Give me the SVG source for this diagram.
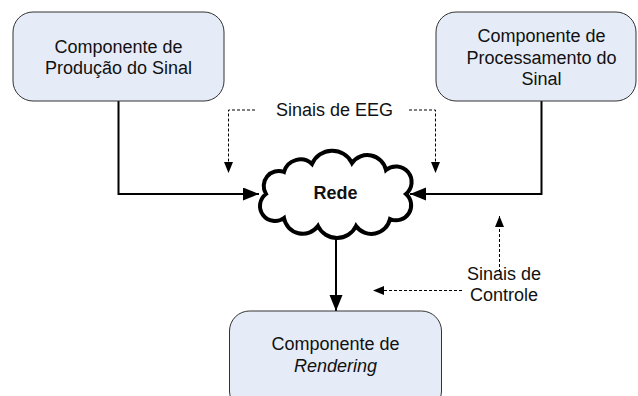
<svg xmlns="http://www.w3.org/2000/svg" width="638" height="396" viewBox="0 0 638 396">
<style>
.box{fill:#e6ecf7;stroke:#333;stroke-width:1}
.t{font-family:"Liberation Sans",Arial,sans-serif;font-size:18px;fill:#111;text-anchor:middle}
.solid{fill:none;stroke:#000;stroke-width:2}
.dash{fill:none;stroke:#000;stroke-width:1;stroke-dasharray:3 2}
</style>
<defs>
<marker id="a" markerUnits="userSpaceOnUse" markerWidth="18" markerHeight="14" refX="16" refY="6.5" orient="auto"><path d="M0,0 L16,6.5 L0,13 z" fill="#000"/></marker>
<marker id="d" markerUnits="userSpaceOnUse" markerWidth="12" markerHeight="10" refX="11" refY="4.5" orient="auto"><path d="M0,0 L11,4.5 L0,9 z" fill="#000"/></marker>
</defs>
<g id="connectors">
<path class="solid" d="M118.5,101 V194 H259" marker-end="url(#a)"/>
<path class="solid" d="M541.5,101 V194 H410" marker-end="url(#a)"/>
<path class="solid" d="M336,236 V311" marker-end="url(#a)"/>
<path class="dash" d="M255,110 H228.5 V173" marker-end="url(#d)"/>
<path class="dash" d="M409,110 H435.5 V173" marker-end="url(#d)"/>
<path class="dash" d="M462,290.5 H373" marker-end="url(#d)"/>
<path class="dash" d="M499.5,272 V216" marker-end="url(#d)"/>
</g>
<g id="producao">
<rect class="box" x="13" y="12" width="211" height="89" rx="20"/>
<text class="t" x="118.5" y="53">Componente de</text>
<text class="t" x="118.5" y="74">Produção do Sinal</text>
</g>
<g id="processamento">
<rect class="box" x="436" y="12" width="200" height="89" rx="20"/>
<text class="t" x="541.5" y="42">Componente de</text>
<text class="t" x="541.5" y="63.5">Processamento do</text>
<text class="t" x="541.5" y="85">Sinal</text>
</g>
<g id="rendering">
<rect class="box" x="229.5" y="311" width="212" height="100" rx="20"/>
<text class="t" x="335.5" y="350">Componente de</text>
<text class="t" x="335.5" y="372" font-style="italic">Rendering</text>
</g>
<g id="rede">
<path d="M266,194 A15,15 0 0 1 284,172 A17,17 0 0 1 312,164 A22,22 0 0 1 352,163 A19,19 0 0 1 386,170 A15,15 0 0 1 406,194 A15,15 0 0 1 390,219 A19,19 0 0 1 356,226 A21,21 0 0 1 318,226 A19,19 0 0 1 284,218 A14,14 0 0 1 266,194 Z" fill="#fff" stroke="#000" stroke-width="4"/>
<text class="t" x="335.5" y="199" font-weight="bold">Rede</text>
</g>
<g id="labels">
<text class="t" x="334.5" y="116">Sinais de EEG</text>
<text class="t" x="504" y="280">Sinais de</text>
<text class="t" x="504" y="301">Controle</text>
</g>
</svg>
